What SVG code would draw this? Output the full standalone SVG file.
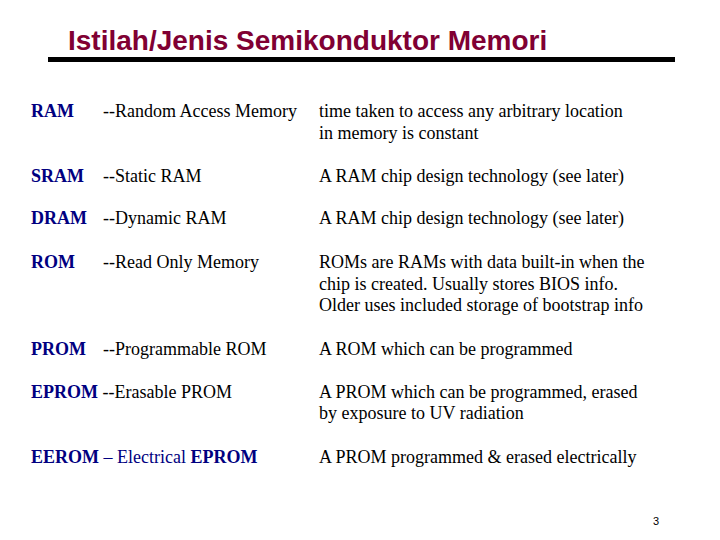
<svg xmlns="http://www.w3.org/2000/svg" width="720" height="540" viewBox="0 0 720 540">
<style>
text{font-family:"Liberation Serif","Times New Roman","DejaVu Serif",serif;font-size:18px;fill:#000}
.k{font-weight:bold;fill:#000080}
.n{fill:#000080}
.t{font-family:"Liberation Sans",Arial,sans-serif;font-weight:bold;font-size:28px;fill:#800033}
.p{font-family:"Liberation Sans",Arial,sans-serif;font-size:11px}
</style>
<rect width="720" height="540" fill="#fff"/>
<text class="t" x="68" y="50">Istilah/Jenis Semikonduktor Memori</text>
<rect x="48" y="57" width="627" height="5" fill="#000"/>
<g id="ram"><text class="k" x="31" y="117">RAM</text><text x="103" y="117">--Random Access Memory</text><text x="319" y="117">time taken to access any arbitrary location</text><text x="319" y="139">in memory is constant</text></g>
<g id="sram"><text class="k" x="31" y="182">SRAM</text><text x="103" y="182">--Static RAM</text><text x="319" y="182">A RAM chip design technology (see later)</text></g>
<g id="dram"><text class="k" x="31" y="224">DRAM</text><text x="103" y="224">--Dynamic RAM</text><text x="319" y="224">A RAM chip design technology (see later)</text></g>
<g id="rom"><text class="k" x="31" y="268">ROM</text><text x="103" y="268">--Read Only Memory</text><text x="319" y="268">ROMs are RAMs with data built-in when the</text><text x="319" y="290">chip is created.  Usually stores BIOS info.</text><text x="319" y="311">Older uses included storage of bootstrap info</text></g>
<g id="prom"><text class="k" x="31" y="355">PROM</text><text x="103" y="355">--Programmable ROM</text><text x="319" y="355">A ROM which can be programmed</text></g>
<g id="eprom"><text x="31" y="398"><tspan class="k">EPROM</tspan> --Erasable PROM</text><text x="319" y="398">A PROM which can be programmed, erased</text><text x="319" y="419">by exposure to UV radiation</text></g>
<g id="eerom"><text x="31" y="463"><tspan class="k">EEROM</tspan><tspan class="n"> – Electrical </tspan><tspan class="k">EPROM</tspan></text><text x="319" y="463">A PROM programmed &amp; erased electrically</text></g>
<text class="p" x="653" y="525">3</text>
</svg>
